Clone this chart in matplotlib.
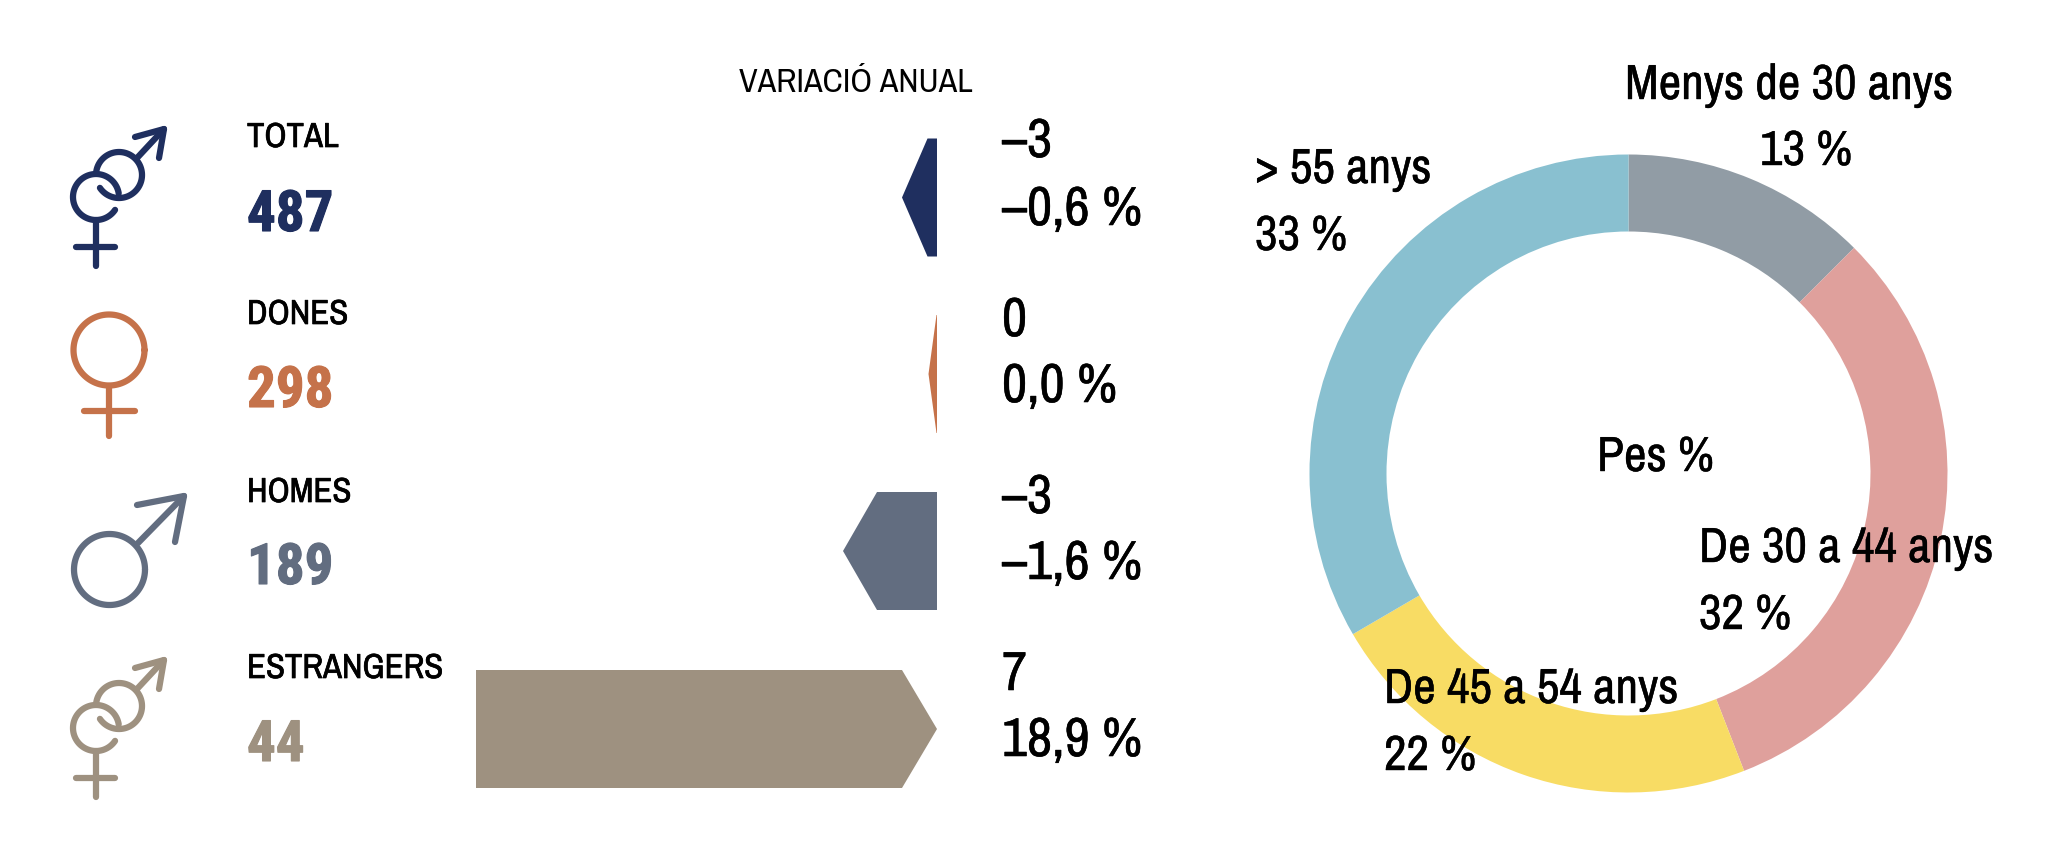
import numpy as np
import matplotlib
matplotlib.use('Agg')
import matplotlib.pyplot as plt
import matplotlib.patheffects as pe

# DATA
row_labels = ['TOTAL', 'DONES', 'HOMES', 'ESTRANGERS']
row_totals = ['487', '298', '189', '44']
change_abs = ['\u20133', '0', '\u20133', '7']
change_pct = ['\u20130,6 %', '0,0 %', '\u20131,6 %', '18,9 %']
arrow_lengths = [-35, -8.5, -94, 461]   # as drawn, px from the zero line
row_colors = ['#1F2F5F', '#C5724A', '#626D80', '#9E9180']

age_labels = ['Menys de 30 anys', 'De 30 a 44 anys', 'De 45 a 54 anys', '> 55 anys']
age_shares = [13, 32, 22, 33]             # printed
age_arcs = [12.5, 31.6, 22.5, 33.4]       # read from the ring
age_colors = ['#919CA5', '#DFA09C', '#F8DC64', '#89C0D0']

W, H = 2067, 850
FONT = ['Archivo Narrow', 'Liberation Sans', 'DejaVu Sans']
FONT_BOLD = ['Roboto Condensed', 'Archivo Narrow', 'Liberation Sans', 'DejaVu Sans']

fig = plt.figure(figsize=(W / 100, H / 100), dpi=100)
ax = fig.add_axes([0, 0, 1, 1])   # canvas in picture pixels
ax.set_xlim(0, W)
ax.set_ylim(H, 0)
ax.axis('off')


def label(x, y, s, size, color='black', stroke=0.0):
    t = ax.text(x, y, s, fontsize=size, color=color, ha='left', va='baseline', family=FONT)
    if stroke:
        t.set_path_effects([pe.withStroke(linewidth=stroke, foreground=color)])


#%% arrows
ZERO_X = 937
ARROW_H = 59
heads = [25.5, 8, 34, 35]
row_mid = [197.5, 374, 551, 729]

for length, head, mid, col in zip(arrow_lengths, heads, row_mid, row_colors):
    if length < 0:
        tip = ZERO_X + length
        xs = [ZERO_X, tip + head, tip, tip + head, ZERO_X]
    else:
        xs = [ZERO_X - length, ZERO_X - head, ZERO_X, ZERO_X - head, ZERO_X - length]
    ys = [mid - ARROW_H, mid - ARROW_H, mid, mid + ARROW_H, mid + ARROW_H]
    ax.fill(xs, ys, color=col, lw=0)

#%% text of the rows
label_y = [147, 324, 502, 678]
total_y = [231, 407, 584, 761]
abs_y = [157, 336, 513, 690]
pct_y = [225, 402, 579, 756]

label(739, 92, 'VARIACI\u00d3 ANUAL', 24.5)
for i in range(4):
    label(247, label_y[i], row_labels[i], 25, stroke=0.5)
    t = ax.text(247, total_y[i], row_totals[i], fontsize=41, color=row_colors[i], weight='bold',
                va='baseline', family=FONT_BOLD)
    t.set_path_effects([pe.withStroke(linewidth=0.8, foreground=row_colors[i])])
    label(1002, abs_y[i], change_abs[i], 39.5, stroke=0.4)
    label(1002, pct_y[i], change_pct[i], 39.5, stroke=0.4)


#%% gender icons
LW = 4.5


def arc(cx, cy, r, a0, a1, col):
    t = np.radians(np.linspace(a0, a1, 120))
    ax.plot(cx + r * np.cos(t), cy + r * np.sin(t), color=col, lw=LW,
            solid_capstyle='round')


def seg(pts, col):
    pts = np.array(pts)
    ax.plot(pts[:, 0], pts[:, 1], color=col, lw=LW, solid_capstyle='round',
            solid_joinstyle='round')


def both_icon(dy, col):
    arc(96, 197 + dy, 23, 34, 351, col)
    seg([(96, 220 + dy), (96, 266 + dy)], col)
    seg([(76, 247 + dy), (115, 247 + dy)], col)
    arc(119, 175 + dy, 23, 185, 506, col)
    seg([(137, 158 + dy), (164, 129 + dy)], col)
    seg([(135, 137 + dy), (164, 129 + dy), (159, 158 + dy)], col)


both_icon(0, row_colors[0])
both_icon(531, row_colors[3])

arc(109, 350, 35.5, 0, 360, row_colors[1])
seg([(109, 386), (109, 436)], row_colors[1])
seg([(84, 411), (135, 411)], row_colors[1])

arc(109.5, 569.5, 35.5, 0, 360, row_colors[2])
seg([(138, 543), (184, 496)], row_colors[2])
seg([(137, 505), (184, 496), (175, 542)], row_colors[2])

#%% donut
cx, cy, R = 1628.5, 473.5, 319
pie_ax = fig.add_axes([(cx - R) / W, 1 - (cy + R) / H, 2 * R / W, 2 * R / H])
pie_ax.pie(age_arcs, colors=age_colors, startangle=90, counterclock=False,
           radius=1, wedgeprops=dict(width=1 - 242 / 319, lw=0))
pie_ax.set_xlim(-1, 1)
pie_ax.set_ylim(-1, 1)
pie_ax.set_zorder(0)
ax.set_zorder(1)
ax.patch.set_alpha(0)

pos_name = [(1625, 99), (1699, 562), (1384, 703), (1255, 183)]
pos_pct = [(1760, 165), (1699, 629), (1384, 770), (1255, 250)]
for i in range(4):
    label(pos_name[i][0], pos_name[i][1], age_labels[i], 35.5, stroke=0.3)
    label(pos_pct[i][0], pos_pct[i][1], str(age_shares[i]) + ' %', 35.5, stroke=0.3)
label(1597, 471, 'Pes %', 35.5, stroke=0.3)

fig.savefig('out.png', dpi=100, facecolor='white')
